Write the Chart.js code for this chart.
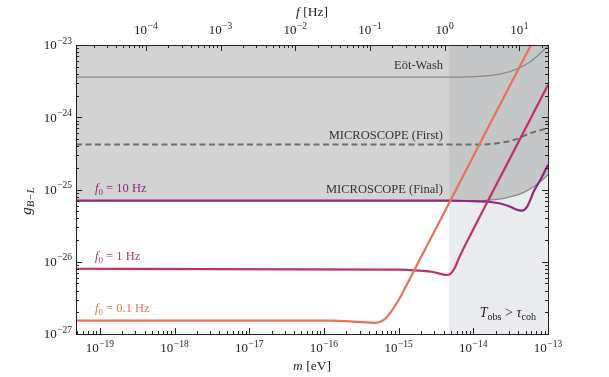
<!DOCTYPE html>
<html lang="en">
<head>
    <meta charset="UTF-8">
    <title>g B-L sensitivity</title>
    <script src="https://cdn.jsdelivr.net/npm/chart.js"></script>
    <style>
        body { margin: 0; background: #fff; }
        #wrap { width: 609px; height: 377px; }
    </style>
</head>
<body>
    <div id="wrap">
        <canvas id="sensChart" width="609" height="377"></canvas>
    </div>

    <script>
        // axis ranges
        const massRange = [4.8e-20, 1e-13];      // m [eV]
        const gRange = [1e-27, 1e-23];           // g_B-L
        const H_EV = 4.1357e-15;                 // Planck constant, eV s (f = m / h)

        // excluded region above the existing bounds
        const eotMass = [4.8e-20, 5e-15, 1.2e-14, 2.5e-14, 4.0e-14, 5.8e-14, 7.9e-14, 1e-13];
        const eotG    = [3.6e-24, 3.6e-24, 3.68e-24, 4.05e-24, 4.76e-24, 5.87e-24, 7.67e-24, 9.7e-24];

        const firstMass = [4.8e-20, 1.24e-14, 2.07e-14, 3.46e-14, 5.79e-14, 1e-13];
        const firstG    = [4.2e-25, 4.2e-25, 4.36e-25, 4.84e-25, 6.0e-25, 7.1e-25];

        const finalMass = [4.8e-20, 1.24e-14, 1.69e-14, 2.68e-14, 4.26e-14, 5.79e-14, 7.19e-14, 1e-13];
        const finalG    = [7.0e-26, 7.0e-26, 7.16e-26, 7.62e-26, 8.67e-26, 1.02e-25, 1.19e-25, 1.6e-25];

        // T_obs > tau_coh band
        const tobsMass = [4.75e-15, 1e-13];
        const tobsG    = [1e-23, 1e-23];

        // projected sensitivities
        const f10Mass = [4.8e-20, 4.8e-15, 8.2e-15, 1.69e-14, 2.30e-14, 3.13e-14, 3.76e-14, 4.48e-14,
                         5.24e-14, 5.79e-14, 6.41e-14, 7.89e-14, 1e-13];
        const f10G    = [7.0e-26, 7.0e-26, 6.93e-26, 6.71e-26, 6.40e-26, 5.78e-26, 5.28e-26, 5.09e-26,
                         5.73e-26, 7.16e-26, 9.33e-26, 1.35e-25, 2.2e-25];

        const f1Mass = [4.8e-20, 1e-15, 1.94e-15, 2.9e-15, 3.72e-15, 4.43e-15, 4.9e-15, 5.43e-15,
                        5.9e-15, 6.34e-15, 1e-14, 3e-14, 1e-13];
        const f1G    = [8.0e-27, 7.8e-27, 7.52e-27, 7.21e-27, 6.76e-27, 6.56e-27, 6.76e-27, 7.69e-27,
                        9.0e-27, 1.09e-26, 2.81e-26, 2.53e-25, 2.81e-24];

        const f01Mass = [4.8e-20, 1.2e-16, 2.2e-16, 3.5e-16, 4.8e-16, 5.8e-16, 6.6e-16, 7.4e-16,
                         8.5e-16, 1e-15, 1.3e-15, 2e-15, 5e-15, 1.5e-14, 6.0e-14];
        const f01G    = [1.53e-27, 1.53e-27, 1.50e-27, 1.45e-27, 1.43e-27, 1.49e-27, 1.62e-27, 1.86e-27,
                         2.25e-27, 2.95e-27, 4.9e-27, 1.16e-26, 7.2e-26, 6.5e-25, 1.03e-23];

        const SERIF = "'Liberation Serif', 'DejaVu Serif', serif";

        function pts(ms, gs) {
            return ms.map((m, i) => ({ x: m, y: gs[i] }));
        }

        function isDecade(v) {
            const e = Math.log10(v);
            return Math.abs(e - Math.round(e)) < 1e-6;
        }

        function logTicks(min, max) {
            const out = [];
            for (let n = Math.floor(Math.log10(min)) - 1; n <= Math.ceil(Math.log10(max)); n++) {
                for (let k = 1; k <= 9; k++) {
                    const v = k * Math.pow(10, n);
                    if (v >= min * 0.9999 && v <= max * 1.0001) out.push({ v: v, major: k === 1 });
                }
            }
            return out;
        }

        // draws text made of parts: {t, it, sub}
        function richText(ctx, parts, x, y, align, size, color) {
            ctx.fillStyle = color;
            ctx.textBaseline = 'middle';
            ctx.textAlign = 'left';
            const fonts = parts.map(p => (p.it ? 'italic ' : '') + (p.sub ? size * 0.72 : size) + 'px ' + SERIF);
            const widths = parts.map((p, i) => { ctx.font = fonts[i]; return ctx.measureText(p.t).width; });
            const total = widths.reduce((a, b) => a + b, 0);
            let cx = align === 'right' ? x - total : (align === 'center' ? x - total / 2 : x);
            parts.forEach((p, i) => {
                ctx.font = fonts[i];
                ctx.fillText(p.t, cx, y + (p.sub ? size * 0.3 : 0));
                cx += widths[i];
            });
        }

        // 10^n label, anchored by 'left' | 'center' | 'right'
        function powerLabel(ctx, v, x, y, align) {
            const e = Math.round(Math.log10(v));
            const expText = (e < 0 ? '\u2212' : '') + Math.abs(e);
            ctx.font = '13px ' + SERIF;
            const w1 = ctx.measureText('10').width;
            ctx.font = '9.5px ' + SERIF;
            const w2 = ctx.measureText(expText).width + 0.5;
            const total = w1 + w2;
            let cx = align === 'right' ? x - total : (align === 'center' ? x - total / 2 : x);
            ctx.fillStyle = '#222';
            ctx.textBaseline = 'middle';
            ctx.textAlign = 'left';
            ctx.font = '13px ' + SERIF;
            ctx.fillText('10', cx, y);
            ctx.font = '9.5px ' + SERIF;
            ctx.fillText(expText, cx + w1 + 0.5, y - 5);
        }

        const frameTicks = {
            id: 'frameTicks',
            afterDatasetsDraw(chart) {
                const { ctx, chartArea: a, scales } = chart;
                ctx.save();
                ctx.strokeStyle = '#222';
                ctx.lineWidth = 1;
                ctx.beginPath();
                logTicks(massRange[0], massRange[1]).forEach(t => {
                    const x = Math.round(scales.x.getPixelForValue(t.v)) + 0.5;
                    const len = t.major ? 6 : 3;
                    ctx.moveTo(x, a.bottom); ctx.lineTo(x, a.bottom - len);
                });
                logTicks(massRange[0] / H_EV, massRange[1] / H_EV).forEach(t => {
                    const x = Math.round(scales.x2.getPixelForValue(t.v)) + 0.5;
                    const len = t.major ? 6 : 3;
                    ctx.moveTo(x, a.top); ctx.lineTo(x, a.top + len);
                });
                logTicks(gRange[0], gRange[1]).forEach(t => {
                    const y = Math.round(scales.y.getPixelForValue(t.v)) + 0.5;
                    const len = t.major ? 6 : 3;
                    ctx.moveTo(a.left, y); ctx.lineTo(a.left + len, y);
                    ctx.moveTo(a.right, y); ctx.lineTo(a.right - len, y);
                });
                ctx.stroke();
                ctx.strokeRect(Math.round(a.left) + 0.5, Math.round(a.top) + 0.5,
                               Math.round(a.right - a.left), Math.round(a.bottom - a.top));

                // tick labels at the decades the scales generate
                scales.x.ticks.filter(t => isDecade(t.value)).forEach(t => {
                    powerLabel(ctx, t.value, scales.x.getPixelForValue(t.value), a.bottom + 15, 'center');
                });
                scales.x2.ticks.filter(t => isDecade(t.value)).forEach(t => {
                    powerLabel(ctx, t.value, scales.x2.getPixelForValue(t.value), a.top - 14, 'center');
                });
                scales.y.ticks.filter(t => isDecade(t.value)).forEach(t => {
                    powerLabel(ctx, t.value, a.left - 4, scales.y.getPixelForValue(t.value) + 1, 'right');
                });

                // curve labels
                const gray = '#333';
                richText(ctx, [{ t: 'E\u00F6t-Wash' }], 443, 66, 'right', 12.5, gray);
                richText(ctx, [{ t: 'MICROSCOPE (First)' }], 443, 136, 'right', 12.5, gray);
                richText(ctx, [{ t: 'MICROSCOPE (Final)' }], 443, 190, 'right', 12.5, gray);
                richText(ctx, [{ t: 'f', it: true }, { t: '0', sub: true }, { t: ' = 10 Hz' }], 95, 189, 'left', 12.5, '#8b2a7c');
                richText(ctx, [{ t: 'f', it: true }, { t: '0', sub: true }, { t: ' = 1 Hz' }], 95, 257, 'left', 12.5, '#bd3368');
                richText(ctx, [{ t: 'f', it: true }, { t: '0', sub: true }, { t: ' = 0.1 Hz' }], 95, 309, 'left', 12.5, '#e8735a');
                richText(ctx, [{ t: 'T', it: true }, { t: 'obs', sub: true }, { t: ' > ' },
                               { t: '\u03C4', it: true }, { t: 'coh', sub: true }], 536, 313, 'right', 14, '#222');

                // axis titles
                richText(ctx, [{ t: 'f', it: true }, { t: ' [Hz]' }], (a.left + a.right) / 2, 12, 'center', 13.5, '#222');
                richText(ctx, [{ t: 'm', it: true }, { t: ' [eV]' }], (a.left + a.right) / 2, 366, 'center', 13.5, '#222');
                ctx.translate(27, 201);
                ctx.rotate(-Math.PI / 2);
                richText(ctx, [{ t: 'g', it: true }, { t: 'B\u2212L', it: true, sub: true }], 0, 0, 'center', 15, '#222');
                ctx.restore();
            }
        };

        const hiddenTicks = { display: false, autoSkip: false, maxRotation: 0 };

        const ctx = document.getElementById('sensChart').getContext('2d');
        new Chart(ctx, {
            type: 'line',
            data: {
                datasets: [
                    {
                        data: pts(tobsMass, tobsG), fill: 'start', backgroundColor: '#e9ebee',
                        borderWidth: 0, pointRadius: 0, order: 10
                    },
                    {
                        data: pts(finalMass, finalG), fill: 'end', backgroundColor: 'rgba(128,128,128,0.35)',
                        borderColor: '#8a8a8a', borderWidth: 1.3, pointRadius: 0, order: 9,
                        cubicInterpolationMode: 'monotone'
                    },
                    {
                        data: pts(eotMass, eotG), borderColor: '#8a8a8a', borderWidth: 1.3,
                        pointRadius: 0, order: 8, cubicInterpolationMode: 'monotone'
                    },
                    {
                        data: pts(firstMass, firstG), borderColor: '#6e6e6e', borderWidth: 2,
                        borderDash: [6, 3.5], pointRadius: 0, order: 7, cubicInterpolationMode: 'monotone'
                    },
                    {
                        data: pts(f10Mass, f10G), borderColor: '#8b2a7c', borderWidth: 2.2,
                        pointRadius: 0, order: 3, cubicInterpolationMode: 'monotone'
                    },
                    {
                        data: pts(f1Mass, f1G), borderColor: '#bd3368', borderWidth: 2.2,
                        pointRadius: 0, order: 2, cubicInterpolationMode: 'monotone'
                    },
                    {
                        data: pts(f01Mass, f01G), borderColor: '#e8735a', borderWidth: 2.2,
                        pointRadius: 0, order: 1, cubicInterpolationMode: 'monotone'
                    }
                ]
            },
            options: {
                responsive: false,
                animation: false,
                layout: { padding: { right: 61 } },
                plugins: { legend: { display: false }, tooltip: { enabled: false } },
                scales: {
                    x: {
                        type: 'logarithmic', position: 'bottom', min: massRange[0], max: massRange[1],
                        grid: { display: false, drawTicks: false }, border: { display: false },
                        ticks: hiddenTicks,
                        afterFit: (s) => { s.height = 43; }
                    },
                    x2: {
                        axis: 'x', type: 'logarithmic', position: 'top',
                        min: massRange[0] / H_EV, max: massRange[1] / H_EV,
                        grid: { display: false, drawTicks: false }, border: { display: false },
                        ticks: hiddenTicks,
                        afterFit: (s) => { s.height = 45; }
                    },
                    y: {
                        type: 'logarithmic', position: 'left', min: gRange[0], max: gRange[1],
                        grid: { display: false, drawTicks: false }, border: { display: false },
                        ticks: hiddenTicks,
                        afterFit: (s) => { s.width = 76; }
                    }
                }
            },
            plugins: [frameTicks]
        });
    </script>
</body>
</html>
